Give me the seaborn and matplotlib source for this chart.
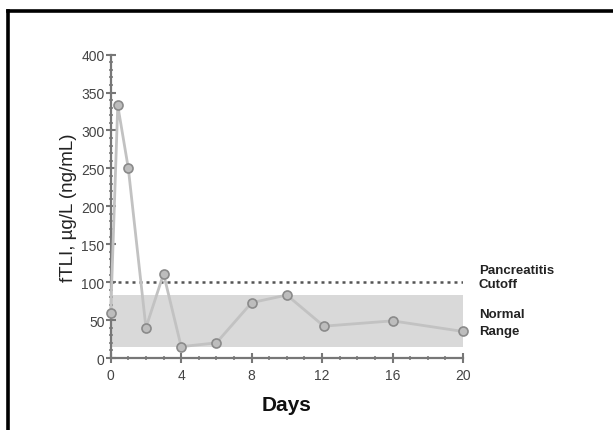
import numpy as np
import pandas as pd
import matplotlib
matplotlib.use("Agg")
import matplotlib.pyplot as plt
from matplotlib.lines import Line2D
from matplotlib.ticker import MultipleLocator
import seaborn as sns

# values
days = [0, 0.4, 1, 2, 3, 4, 6, 8, 10, 12.1, 16, 20]
ftli = [59, 333, 250, 40, 111, 15, 20, 73, 83, 42, 49, 35]
normal_range = (15, 83)
cutoff = 100
x_ticks = [0, 4, 8, 12, 16, 20]
y_ticks = [0, 50, 100, 150, 200, 250, 300, 350, 400]

df = pd.DataFrame({"Days": days, "fTLI": ftli})

sns.set_theme(style="white")
plt.rcParams["font.family"] = ["Liberation Sans", "DejaVu Sans"]

fig = plt.figure(figsize=(6.13, 4.31), dpi=100)
ax = fig.add_axes([0.1806, 0.167, 0.5747, 0.704])

# normal range band and cutoff line
ax.fill_between([0, 20], normal_range[0], normal_range[1], color="#d9d9d9", lw=0, zorder=0)
ax.plot([0, 20.3], [cutoff, cutoff], ls=(0, (1.2, 1.6)), color="#555555", lw=1.8, zorder=1)

sns.lineplot(data=df, x="Days", y="fTLI", ax=ax, color="#c2c2c2", lw=2,
             marker="o", markersize=6.5, markerfacecolor="#bdbdbd",
             markeredgecolor="#8a8a8a", markeredgewidth=1.2, zorder=3, clip_on=False)

ax.set_xlim(0, 20)
ax.set_ylim(0, 400)
ax.set_xticks(x_ticks)
ax.set_yticks(y_ticks)
ax.xaxis.set_minor_locator(MultipleLocator(1))
ax.yaxis.set_minor_locator(MultipleLocator(10))

sns.despine(ax=ax)
for s in ["left", "bottom"]:
    ax.spines[s].set_color("#777777")
    ax.spines[s].set_linewidth(1.6)

ax.tick_params(which="major", direction="inout", length=7, width=1.5, color="#777777",
               labelsize=10, labelcolor="#444444", bottom=True, left=True, pad=1)
ax.tick_params(which="minor", direction="inout", length=3.5, width=1.3, color="#8a8a8a",
               bottom=True, left=True)
ax.tick_params(axis="x", which="major", pad=4)

ax.set_xlabel("Days", fontsize=15, fontweight="bold", color="#111111", labelpad=9)
ax.set_ylabel("fTLI, µg/L (ng/mL)", fontsize=13.5, color="#222222", labelpad=3)

# right-side annotations
ax.text(20.9, cutoff + 7, "Pancreatitis\nCutoff", fontsize=9.5, fontweight="bold",
        color="#222222", va="center", ha="left", linespacing=1.3, clip_on=False)
ax.text(20.9, 47, "Normal\nRange", fontsize=9.5, fontweight="bold",
        color="#222222", va="center", ha="left", linespacing=1.5, clip_on=False)

# black frame on left and top edges
fig.add_artist(Line2D([7.5 / 613, 7.5 / 613], [0, 1 - 11.5 / 431], color="black", lw=2.6,
                      transform=fig.transFigure, solid_capstyle="projecting"))
fig.add_artist(Line2D([7.5 / 613, 1], [1 - 11.5 / 431, 1 - 11.5 / 431], color="black", lw=2.6,
                      transform=fig.transFigure, solid_capstyle="projecting"))

fig.savefig("out.png", dpi=100, facecolor="white")
